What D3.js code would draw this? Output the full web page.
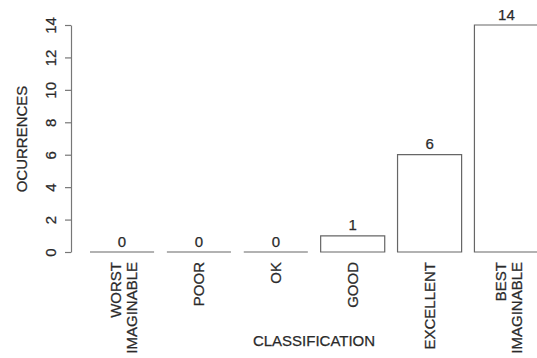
<!DOCTYPE html>
<html>
<head>
<meta charset="utf-8">
<script src="https://cdn.jsdelivr.net/npm/d3@7"></script>
<style>
  html, body { margin: 0; padding: 0; background: #fff; }
  svg { display: block; }
  text { font-family: "Liberation Sans", Arial, sans-serif; fill: #2a2a2a; stroke: #2a2a2a; stroke-width: 0.25px; }
</style>
</head>
<body>
<svg id="chart" width="537" height="358"></svg>
<script>
// Classification counts
const categories = ["WORST\nIMAGINABLE", "POOR", "OK", "GOOD", "EXCELLENT", "BEST\nIMAGINABLE"];
const occurrences = [0, 0, 0, 1, 6, 14];
const yTicks = [0, 2, 4, 6, 8, 10, 12, 14];

const svg = d3.select("#chart");
const fontSize = 15;

const x = d3.scaleBand()
  .domain(categories)
  .range([90, 538.5])
  .paddingInner(0.2 / 1.2)
  .paddingOuter(0);

const y = d3.scaleLinear().domain([0, 14]).range([252, 25]);

// Bars drawn as closed paths so zero counts still show as a flat line
svg.append("g").selectAll("path")
  .data(categories)
  .join("path")
  .attr("d", (d, i) => {
    const p = d3.path();
    const x0 = x(d), x1 = x(d) + x.bandwidth();
    const y0 = y(0), y1 = y(occurrences[i]);
    p.moveTo(x0, y0);
    p.lineTo(x0, y1);
    p.lineTo(x1, y1);
    p.lineTo(x1, y0);
    p.closePath();
    return p.toString();
  })
  .attr("fill", "#fff")
  .attr("stroke", "#666")
  .attr("stroke-width", 1.2);

// Value labels above the bars
svg.append("g").selectAll("text")
  .data(categories)
  .join("text")
  .attr("x", d => x(d) + x.bandwidth() / 2)
  .attr("y", (d, i) => y(occurrences[i]) - 5.5)
  .attr("text-anchor", "middle")
  .attr("font-size", fontSize)
  .text((d, i) => occurrences[i]);

// Y axis (rotated tick labels)
const yAxis = svg.append("g")
  .attr("transform", "translate(71,0)")
  .call(d3.axisLeft(y).tickValues(yTicks).tickSize(6).tickSizeOuter(0).tickPadding(0));
yAxis.select(".domain").attr("stroke", "#777").attr("stroke-width", 1.2);
yAxis.selectAll(".tick line").attr("stroke", "#777").attr("stroke-width", 1.2);
yAxis.selectAll(".tick text")
  .attr("font-size", fontSize)
  .attr("font-family", "Liberation Sans, Arial, sans-serif")
  .attr("text-anchor", "middle")
  .attr("x", null)
  .attr("dy", null)
  .attr("transform", "translate(-15,0) rotate(-90)");

// Category labels, perpendicular to the axis
const catG = svg.append("g").selectAll("g")
  .data(categories)
  .join("g")
  .attr("transform", d => `translate(${x(d) + x.bandwidth() / 2},262) rotate(-90)`);

catG.each(function (d) {
  const lines = d.split("\n");
  const t = d3.select(this).append("text")
    .attr("text-anchor", "end")
    .attr("font-size", fontSize);
  const lh = 16;
  const offset0 = lines.length === 1 ? 0 : -6;
  lines.forEach((ln, j) => {
    t.append("tspan")
      .attr("x", 0)
      .attr("y", offset0 + j * lh + fontSize * 0.36)
      .text(ln);
  });
});

// Axis titles
svg.append("text")
  .attr("x", 314)
  .attr("y", 346)
  .attr("text-anchor", "middle")
  .attr("font-size", fontSize)
  .text("CLASSIFICATION");

svg.append("text")
  .attr("transform", "translate(27,139) rotate(-90)")
  .attr("text-anchor", "middle")
  .attr("font-size", fontSize)
  .text("OCURRENCES");
</script>
</body>
</html>
